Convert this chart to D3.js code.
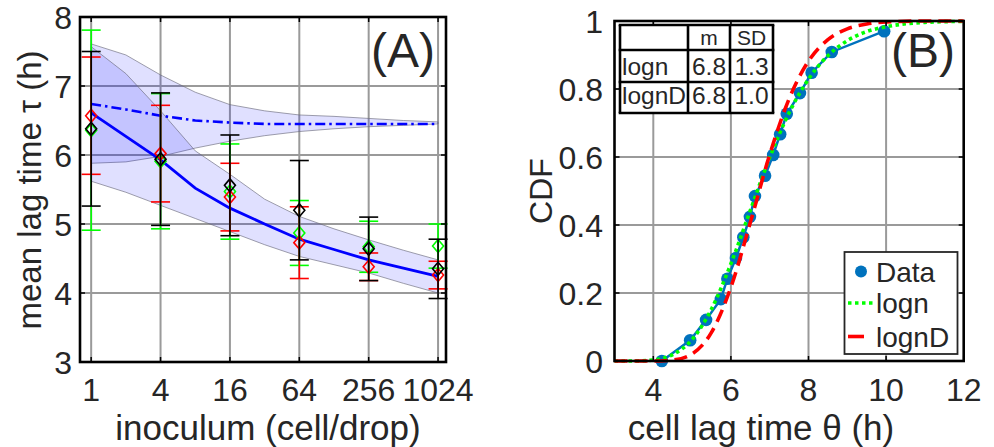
<!DOCTYPE html>
<html>
<head>
<meta charset="utf-8">
<script src="https://cdn.jsdelivr.net/npm/d3@7"></script>
<style>
  html, body { margin: 0; padding: 0; background: #fff; }
  svg text { font-family: "Liberation Sans", Arial, Helvetica, sans-serif; fill: #262626; }
</style>
</head>
<body>
<svg id="fig" width="994" height="447"></svg>
<script>
// ---------- Panel A: mean lag time vs inoculum ----------
const inoculum = [1, 4, 16, 64, 256, 1024];
const inoculumTicks = [1, 4, 16, 64, 256, 1024];
const lagTicksA = [3, 4, 5, 6, 7, 8];

// experimental series (mean and symmetric error)
const blackMean = [6.38, 5.94, 5.56, 5.20, 4.64, 4.35];
const blackErr  = [1.12, 0.96, 0.73, 0.72, 0.46, 0.43];
const greenMean = [6.36, 5.91, 5.47, 4.87, 4.67, 4.68];
const greenErr  = [1.45, 0.98, 0.69, 0.47, 0.37, 0.32];
const redMean   = [6.57, 6.02, 5.39, 4.73, 4.38, 4.26];
const redErr    = [0.85, 0.70, 0.49, 0.52, 0.20, 0.20];

// model curves on a doubling grid
const modelN      = [1, 2, 4, 8, 16, 32, 64, 128, 256, 512, 1024];
const modelMean   = [6.61, 6.27, 5.93, 5.52, 5.23, 5.00, 4.78, 4.63, 4.48, 4.36, 4.24];
const modelHi     = [7.57, 7.18, 6.64, 6.06, 5.72, 5.36, 5.11, 4.93, 4.77, 4.62, 4.48];
const modelLo     = [5.62, 5.46, 5.27, 5.08, 4.89, 4.70, 4.53, 4.41, 4.29, 4.14, 4.00];
const modelDMean  = [6.74, 6.66, 6.57, 6.50, 6.47, 6.45, 6.45, 6.45, 6.45, 6.45, 6.45];
const modelDHi    = [7.61, 7.45, 7.16, 6.91, 6.73, 6.64, 6.58, 6.56, 6.53, 6.50, 6.48];
const modelDLo    = [5.88, 5.90, 5.98, 6.10, 6.20, 6.28, 6.34, 6.38, 6.41, 6.43, 6.45];

// ---------- Panel B: CDF of cell lag time ----------
const lagTicksB = [4, 6, 8, 10, 12];
const cdfTicks = [0, 0.2, 0.4, 0.6, 0.8, 1];
const dataLag = [4.22, 4.95, 5.36, 5.74, 5.91, 6.13, 6.32, 6.49, 6.62, 6.88, 7.09, 7.27, 7.44, 7.78, 8.08, 8.60, 9.95];
const dataCdf = [0.000, 0.061, 0.121, 0.182, 0.242, 0.303, 0.364, 0.424, 0.485, 0.545, 0.606, 0.667, 0.727, 0.788, 0.848, 0.909, 0.970];
const fitLag   = [3, 3.5, 4, 4.5, 5, 5.5, 6, 6.5, 7, 7.5, 8, 8.5, 9, 9.5, 10, 11, 12];
const lognCdf  = [0, 0.000, 0.003, 0.019, 0.063, 0.153, 0.286, 0.443, 0.598, 0.730, 0.829, 0.898, 0.942, 0.969, 0.983, 0.996, 0.999];
const lognDCdf = [0, 0.000, 0.000, 0.003, 0.021, 0.084, 0.217, 0.407, 0.607, 0.771, 0.882, 0.945, 0.977, 0.991, 0.997, 1.000, 1.000];
const tableHead = ["", "m", "SD"];
const tableRows = [["logn", "6.8", "1.3"], ["lognD", "6.8", "1.0"]];
const legendLabels = ["Data", "logn", "lognD"];

const svg = d3.select("#fig");
const TICK_FONT = 32, LABEL_FONT = 35, TAG_FONT = 48;
const gridColor = "#9a9a9a";

function frame(g, x0, x1, y0, y1) {
  g.append("rect").attr("x", x0).attr("y", y0).attr("width", x1 - x0).attr("height", y1 - y0)
    .attr("fill", "none").attr("stroke", "#000").attr("stroke-width", 2.6);
}

// ===== Panel A =====
const ax = d3.scaleLog().base(2).domain([0.8, 1200]).range([80, 446]);
const ay = d3.scaleLinear().domain([3, 8]).range([362, 17]);
const gA = svg.append("g");

// grid
gA.append("g").selectAll("line.vx").data(inoculumTicks).join("line")
  .attr("x1", d => ax(d)).attr("x2", d => ax(d)).attr("y1", ay(8)).attr("y2", ay(3))
  .attr("stroke", gridColor).attr("stroke-width", 2);
gA.append("g").selectAll("line.hy").data(lagTicksA.slice(1, -1)).join("line")
  .attr("x1", ax(0.8)).attr("x2", ax(1200)).attr("y1", d => ay(d)).attr("y2", d => ay(d))
  .attr("stroke", gridColor).attr("stroke-width", 2);

// shaded model ranges
const bandS = modelN.map((n, i) => ({ n, lo: modelLo[i], hi: modelHi[i] }));
const bandD = modelN.map((n, i) => ({ n, lo: modelDLo[i], hi: modelDHi[i] }));
const area = d3.area().x(d => ax(d.n)).y0(d => ay(d.lo)).y1(d => ay(d.hi));
[bandD, bandS].forEach(b => {
  gA.append("path").attr("d", area(b)).attr("fill", "#0000ff").attr("fill-opacity", 0.12)
    .attr("stroke", "#6a6a7a").attr("stroke-width", 0.8).attr("stroke-opacity", 0.8);
});

// model lines
const line = d3.line().x(d => ax(d[0])).y(d => ay(d[1]));
gA.append("path").attr("d", line(modelN.map((n, i) => [n, modelDMean[i]])))
  .attr("fill", "none").attr("stroke", "#0000ff").attr("stroke-width", 2.6)
  .attr("stroke-dasharray", "10,4,2.5,4");
gA.append("path").attr("d", line(modelN.map((n, i) => [n, modelMean[i]])))
  .attr("fill", "none").attr("stroke", "#0000ff").attr("stroke-width", 2.8);

// error bars + diamonds
function series(mean, err, color) {
  const g = gA.append("g").attr("stroke", color).attr("fill", "none").attr("stroke-width", 1.6);
  inoculum.forEach((n, i) => {
    const x = ax(n), yt = ay(mean[i] + err[i]), yb = ay(mean[i] - err[i]), ym = ay(mean[i]);
    g.append("line").attr("x1", x).attr("x2", x).attr("y1", yt).attr("y2", yb);
    g.append("line").attr("x1", x - 9.5).attr("x2", x + 9.5).attr("y1", yt).attr("y2", yt);
    g.append("line").attr("x1", x - 9.5).attr("x2", x + 9.5).attr("y1", yb).attr("y2", yb);
    g.append("path").attr("d", `M${x},${ym - 6.5}L${x + 5.5},${ym}L${x},${ym + 6.5}L${x - 5.5},${ym}Z`);
  });
}
series(greenMean, greenErr, "#00ff00");
series(redMean, redErr, "#ff0000");
series(blackMean, blackErr, "#000000");

// ticks (inside, all four sides)
const tkA = gA.append("g").attr("stroke", "#000").attr("stroke-width", 1.5);
inoculumTicks.forEach(t => {
  tkA.append("line").attr("x1", ax(t)).attr("x2", ax(t)).attr("y1", ay(3)).attr("y2", ay(3) - 5);
  tkA.append("line").attr("x1", ax(t)).attr("x2", ax(t)).attr("y1", ay(8)).attr("y2", ay(8) + 5);
});
lagTicksA.forEach(t => {
  tkA.append("line").attr("x1", ax(0.8)).attr("x2", ax(0.8) + 5).attr("y1", ay(t)).attr("y2", ay(t));
  tkA.append("line").attr("x1", ax(1200)).attr("x2", ax(1200) - 5).attr("y1", ay(t)).attr("y2", ay(t));
});
frame(gA, ax(0.8), ax(1200), ay(8), ay(3));

gA.selectAll("text.xt").data(inoculumTicks).join("text")
  .attr("x", d => ax(d)).attr("y", 401).attr("text-anchor", "middle")
  .attr("font-size", TICK_FONT).text(d => d);
gA.selectAll("text.yt").data(lagTicksA).join("text")
  .attr("x", 72).attr("y", d => ay(d) + TICK_FONT * 0.36).attr("text-anchor", "end")
  .attr("font-size", TICK_FONT).text(d => d);
gA.append("text").attr("x", 268).attr("y", 440).attr("text-anchor", "middle")
  .attr("font-size", LABEL_FONT).text("inoculum (cell/drop)");
gA.append("text").attr("transform", "translate(41,190) rotate(-90)").attr("text-anchor", "middle")
  .attr("font-size", 33).text("mean lag time τ (h)");
gA.append("text").attr("x", 435).attr("y", 67).attr("text-anchor", "end")
  .attr("font-size", TAG_FONT).attr("fill", "#000").text("(A)");

// ===== Panel B =====
const bx = d3.scaleLinear().domain([3, 12]).range([614.5, 963.7]);
const by = d3.scaleLinear().domain([0, 1]).range([361, 21]);
const gB = svg.append("g");

gB.append("g").selectAll("line").data(lagTicksB.slice(0, -1)).join("line")
  .attr("x1", d => bx(d)).attr("x2", d => bx(d)).attr("y1", by(0)).attr("y2", by(1))
  .attr("stroke", gridColor).attr("stroke-width", 2);
gB.append("g").selectAll("line").data(cdfTicks.slice(1, -1)).join("line")
  .attr("x1", bx(3)).attr("x2", bx(12)).attr("y1", d => by(d)).attr("y2", d => by(d))
  .attr("stroke", gridColor).attr("stroke-width", 2);

const lineB = d3.line().x(d => bx(d[0])).y(d => by(d[1]));
const smoothB = d3.line().x(d => bx(d[0])).y(d => by(d[1])).curve(d3.curveMonotoneX);
const dataPts = dataLag.map((v, i) => [v, dataCdf[i]]);
gB.append("path").attr("d", lineB(dataPts)).attr("fill", "none")
  .attr("stroke", "#0072bd").attr("stroke-width", 2.5);
gB.selectAll("circle.pt").data(dataPts).join("circle")
  .attr("cx", d => bx(d[0])).attr("cy", d => by(d[1])).attr("r", 6.3).attr("fill", "#0072bd");
gB.append("path").attr("d", smoothB(fitLag.map((v, i) => [v, lognCdf[i]]))).attr("fill", "none")
  .attr("stroke", "#00ff00").attr("stroke-width", 3.6).attr("stroke-dasharray", "3.5,3.5");
gB.append("path").attr("d", smoothB(fitLag.map((v, i) => [v, lognDCdf[i]]))).attr("fill", "none")
  .attr("stroke", "#ff0000").attr("stroke-width", 3.6).attr("stroke-dasharray", "13,7");

const tkB = gB.append("g").attr("stroke", "#000").attr("stroke-width", 1.5);
lagTicksB.forEach(t => {
  tkB.append("line").attr("x1", bx(t)).attr("x2", bx(t)).attr("y1", by(0)).attr("y2", by(0) - 5);
  tkB.append("line").attr("x1", bx(t)).attr("x2", bx(t)).attr("y1", by(1)).attr("y2", by(1) + 5);
});
cdfTicks.forEach(t => {
  tkB.append("line").attr("x1", bx(3)).attr("x2", bx(3) + 5).attr("y1", by(t)).attr("y2", by(t));
  tkB.append("line").attr("x1", bx(12)).attr("x2", bx(12) - 5).attr("y1", by(t)).attr("y2", by(t));
});
frame(gB, bx(3), bx(12), by(1), by(0));

gB.selectAll("text.xt").data(lagTicksB).join("text")
  .attr("x", d => bx(d)).attr("y", 401).attr("text-anchor", "middle")
  .attr("font-size", TICK_FONT).text(d => d);
gB.selectAll("text.yt").data(cdfTicks).join("text")
  .attr("x", 603).attr("y", d => by(d) + TICK_FONT * 0.36).attr("text-anchor", "end")
  .attr("font-size", TICK_FONT).text(d => d);
gB.append("text").attr("x", 761).attr("y", 440).attr("text-anchor", "middle")
  .attr("font-size", LABEL_FONT).text("cell lag time θ (h)");
gB.append("text").attr("transform", "translate(552,191) rotate(-90)").attr("text-anchor", "middle")
  .attr("font-size", 32).text("CDF");
gB.append("text").attr("x", 955).attr("y", 67).attr("text-anchor", "end")
  .attr("font-size", TAG_FONT).attr("fill", "#000").text("(B)");

// parameter table
const colX = [620, 688, 730, 773];
const rowY = [25, 50, 82, 113];
const tbl = gB.append("g");
tbl.append("rect").attr("x", colX[0]).attr("y", rowY[0]).attr("width", colX[3] - colX[0])
  .attr("height", rowY[3] - rowY[0]).attr("fill", "#fff");
colX.forEach(x => tbl.append("line").attr("x1", x).attr("x2", x).attr("y1", rowY[0]).attr("y2", rowY[3])
  .attr("stroke", "#000").attr("stroke-width", 2.6));
rowY.forEach(y => tbl.append("line").attr("x1", colX[0] - 1.3).attr("x2", colX[3] + 1.3).attr("y1", y).attr("y2", y)
  .attr("stroke", "#000").attr("stroke-width", 2.6));
tableHead.forEach((h, j) => {
  if (!h) return;
  tbl.append("text").attr("x", (colX[j] + colX[j + 1]) / 2).attr("y", 45).attr("text-anchor", "middle")
    .attr("font-size", 21).attr("fill", "#000").text(h);
});
const rowBase = [75, 104];
tableRows.forEach((r, i) => {
  r.forEach((c, j) => {
    tbl.append("text")
      .attr("x", j === 0 ? colX[0] + 2 : (colX[j] + colX[j + 1]) / 2)
      .attr("y", rowBase[i]).attr("text-anchor", j === 0 ? "start" : "middle")
      .attr("font-size", 24.5).attr("fill", "#000").text(c);
  });
});

// legend
const lg = gB.append("g");
lg.append("rect").attr("x", 844.5).attr("y", 252).attr("width", 113).attr("height", 102)
  .attr("fill", "#fff").attr("stroke", "#262626").attr("stroke-width", 1.8);
const legY = [271.5, 303, 336.5];
lg.append("circle").attr("cx", 861).attr("cy", legY[0]).attr("r", 6).attr("fill", "#0072bd");
lg.append("line").attr("x1", 848).attr("x2", 873).attr("y1", legY[1]).attr("y2", legY[1])
  .attr("stroke", "#00ff00").attr("stroke-width", 3.6).attr("stroke-dasharray", "3.5,3.5");
lg.append("line").attr("x1", 848).attr("x2", 873).attr("y1", legY[2]).attr("y2", legY[2])
  .attr("stroke", "#ff0000").attr("stroke-width", 3.6).attr("stroke-dasharray", "16,20");
legendLabels.forEach((t, i) => {
  lg.append("text").attr("x", 876).attr("y", legY[i] + 10).attr("font-size", 28)
    .attr("fill", "#000").text(t);
});
</script>
</body>
</html>
